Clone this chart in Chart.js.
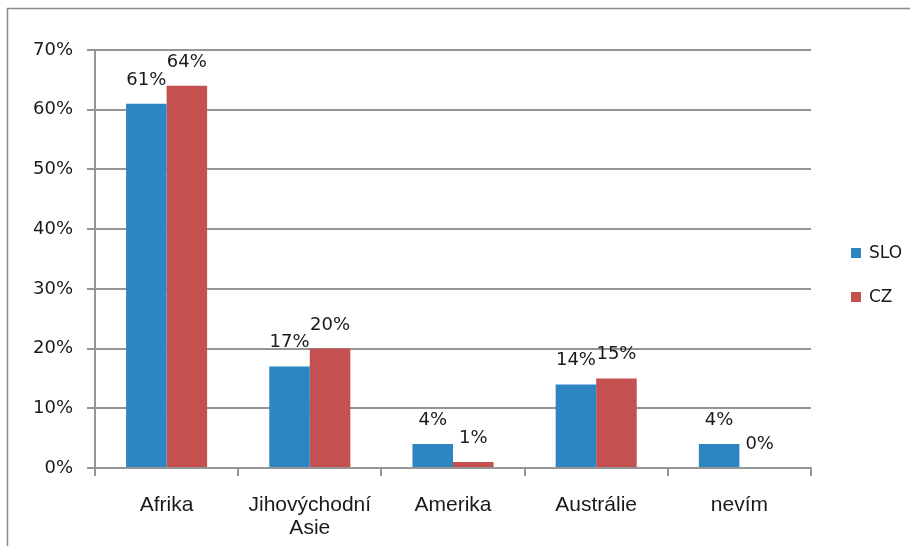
<!DOCTYPE html>
<html>
<head>
<meta charset="utf-8">
<script src="https://cdn.jsdelivr.net/npm/chart.js@4/dist/chart.umd.min.js"></script>
<style>
  html, body { margin: 0; padding: 0; background: #fff; }
  #wrap { width: 910px; height: 546px; position: relative; }
</style>
</head>
<body>
<div id="wrap"><canvas id="chart"></canvas></div>
<script>
// categories and series (percent)
const categories = ["Afrika", ["Jihovýchodní", "Asie"], "Amerika", "Austrálie", "nevím"];
const sloValues = [61, 17, 4, 14, 4];
const czValues = [64, 20, 1, 15, 0];
const seriesNames = ["SLO", "CZ"];
const seriesColors = ["#2d85c2", "#c4504f"];

const gridColor = '#959595';
const numFont = { family: 'DejaVu Sans', size: 18 };

// value labels above each bar
const barLabels = {
    id: 'barLabels',
    afterDatasetsDraw(chart) {
        const ctx = chart.ctx;
        ctx.save();
        ctx.font = '18px "DejaVu Sans"';
        ctx.fillStyle = '#1a1a1a';
        ctx.textAlign = 'center';
        ctx.textBaseline = 'alphabetic';
        chart.data.datasets.forEach((ds, i) => {
            chart.getDatasetMeta(i).data.forEach((bar, j) => {
                ctx.fillText(ds.data[j] + '%', bar.x, bar.y - 19);
            });
        });
        ctx.restore();
    }
};

// outer frame + legend on the right
const frameAndLegend = {
    id: 'frameAndLegend',
    beforeDraw(chart) {
        const ctx = chart.ctx;
        ctx.save();
        ctx.fillStyle = '#fff';
        ctx.fillRect(0, 0, chart.width, chart.height);
        ctx.strokeStyle = '#8a8a8a';
        ctx.lineWidth = 1.5;
        ctx.strokeRect(7.5, 8.5, 1200, 1200);
        ctx.restore();
    },
    afterDraw(chart) {
        const ctx = chart.ctx;
        ctx.save();
        ctx.font = '17px "DejaVu Sans"';
        ctx.textBaseline = 'middle';
        ctx.textAlign = 'left';
        chart.data.datasets.forEach((ds, i) => {
            const cy = 253 + i * 44;
            ctx.fillStyle = ds.backgroundColor;
            ctx.fillRect(851, cy - 5, 10, 10);
            ctx.fillStyle = '#1a1a1a';
            ctx.fillText(ds.label, 869, cy + 1);
        });
        ctx.restore();
    }
};

new Chart(document.getElementById('chart'), {
    type: 'bar',
    data: {
        labels: categories,
        datasets: [
            { label: seriesNames[0], data: sloValues, backgroundColor: seriesColors[0] },
            { label: seriesNames[1], data: czValues, backgroundColor: seriesColors[1] }
        ]
    },
    options: {
        responsive: true,
        maintainAspectRatio: false,
        animation: false,
        layout: { padding: { top: 50, right: 99, left: 0, bottom: 0 } },
        datasets: { bar: { categoryPercentage: 0.566, barPercentage: 1.0 } },
        plugins: {
            legend: { display: false },
            tooltip: { enabled: false }
        },
        scales: {
            x: {
                afterFit(scale) { scale.height = 78; },
                grid: { drawOnChartArea: false, drawTicks: true, tickLength: 8, color: gridColor, lineWidth: 2 },
                border: { display: true, color: gridColor, width: 2 },
                ticks: {
                    color: '#1a1a1a',
                    padding: 18,
                    maxRotation: 0,
                    font: { family: 'Liberation Sans', size: 21, lineHeight: 1.1 }
                }
            },
            y: {
                min: 0,
                max: 70,
                afterFit(scale) { scale.width = 95; },
                grid: { color: gridColor, lineWidth: 2, tickLength: 8 },
                border: { display: true, color: gridColor, width: 2 },
                ticks: {
                    stepSize: 10,
                    color: '#1a1a1a',
                    padding: 14,
                    font: numFont,
                    callback: v => v + '%'
                }
            }
        }
    },
    plugins: [barLabels, frameAndLegend]
});
</script>
</body>
</html>
